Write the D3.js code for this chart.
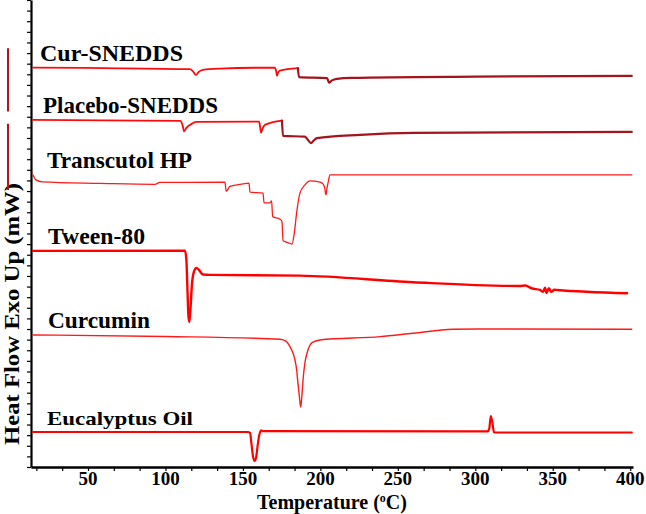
<!DOCTYPE html>
<html>
<head>
<meta charset="UTF-8">
<title>DSC</title>
<style>
body { margin: 0; background: #fff; }
.axis path, .axis line { stroke: #000; fill: none; }
.lbl { font-family: "Liberation Serif", "Times New Roman", serif; font-weight: bold; fill: #000; }
.curve { fill: none; stroke-linejoin: round; stroke-linecap: round; }
</style>
</head>
<body>
<div class="dsc"></div>
<script src="https://cdn.jsdelivr.net/npm/d3@7/dist/d3.min.js"></script>
<script>

// [temperature °C, heat flow mW (curves stacked)]
const curSnedds = [
    [14.5, 37.63], [60, 37.58], [115.8, 37.48], [117.5, 37.32], [119.7, 36.95], [121.5, 37.23],
    [124.2, 37.42], [135, 37.53], [170.7, 37.63], [171.4, 37.32], [172, 36.85], [172.6, 37.13],
    [173.9, 37.35], [185.5, 37.58], [186.2, 36.73], [204.3, 36.64], [205.6, 36.22], [207.5, 36.43],
    [210.7, 36.57], [220, 36.66], [300, 36.78], [401, 36.85]
];
const placeboSnedds = [
    [14.5, 32.7], [60, 32.66], [109.4, 32.61], [111, 32.23], [112, 31.62], [113.5, 31.95],
    [115.8, 32.23], [120, 32.52], [160.4, 32.54], [161, 32.14], [161.7, 31.51], [162.6, 31.86],
    [164.2, 32.23], [175.2, 32.64], [175.9, 31.2], [190, 31.13], [192, 30.82], [193.9, 30.51],
    [195.5, 30.73], [197.8, 30.98], [225.6, 31.29], [260, 31.48], [401, 31.57]
];
const transcutol = [
    [14.5, 27.52], [16.4, 27.05], [20.3, 26.86], [57.7, 26.72], [93.2, 26.63], [96.4, 26.81],
    [138.4, 26.83], [139.2, 25.97], [141.6, 26.44], [150, 26.67], [153.9, 26.74], [154.6, 25.89],
    [163, 25.8], [163.6, 24.88], [167.4, 24.88], [168.5, 25.07], [169.2, 23.59], [173.9, 23.35],
    [175.2, 23.12], [175.9, 21.33], [177.2, 21.23], [180.4, 21.08], [181.7, 20.99], [183, 21.87],
    [184.9, 24.22], [186.8, 25.8], [190, 26.58], [193.3, 26.96], [199.7, 26.83], [201.7, 26.67],
    [202.8, 26.3], [203.6, 25.64], [204.3, 26.3], [204.9, 26.74], [206.2, 27.52], [401, 27.52]
];
const tween80 = [
    [14.5, 20.36], [112.6, 20.39], [113.5, 19.5], [114.2, 16.7], [114.8, 14.3], [115.4, 13.67],
    [116.1, 14.8], [117.1, 17.2], [118.4, 18.4], [120, 18.75], [121.6, 18.57], [124.2, 18.14],
    [128.7, 18.1], [186.8, 18.03], [259.8, 17.41], [328.9, 17.06], [332.1, 17.1], [336.6, 16.82],
    [341.8, 16.68], [343.8, 16.5], [345, 16.9], [346, 16.4], [347.5, 16.85], [349, 16.5],
    [351, 16.7], [352.7, 16.68], [398, 16.37]
];
const curcumin = [
    [14.5, 12.44], [100, 12.3], [174, 12.04], [178, 11.83], [180.4, 11.34], [182.3, 10.74],
    [183.6, 10.08], [184.7, 9.14], [185.5, 7.92], [186.4, 6.69], [187.3, 5.65], [188, 6.6],
    [188.8, 8.2], [190, 9.8], [191.4, 10.74], [193, 11.4], [194.6, 11.72], [199.7, 11.97],
    [238.5, 12.28], [259.8, 12.6], [285.6, 12.98], [303, 13.0], [401, 12.98]
];
const eucalyptus = [
    [14.5, 3.3], [153.3, 3.3], [154.6, 3.2], [155.5, 2.2], [156.5, 1.0], [157.5, 0.57],
    [158.5, 0.9], [159.4, 1.9], [160.4, 2.9], [161.7, 3.45], [163, 3.38], [303, 3.35],
    [308, 3.35], [309, 3.6], [310, 4.8], [311, 4.2], [312, 3.3], [313, 3.25], [401, 3.25]
];

const names = ['Cur-SNEDDS', 'Placebo-SNEDDS', 'Transcutol HP', 'Tween-80', 'Curcumin', 'Eucalyptus Oil'];
const series = [curSnedds, placeboSnedds, transcutol, tween80, curcumin, eucalyptus];
// temperature where the SNEDDS traces switch to the darker trace colour
const splitAt = [186, 175.5, null, null, null, null];
// scale bars, mW
const scaleBars = [[33.49, 39.46], [26.1, 32.33]];
const tempLabels = [50, 100, 150, 200, 250, 300, 350, 400];

// styles
const stroke = ['#ff0a0a', '#ff0a0a', '#ff1a1a', '#ff0000', '#ff1a1a', '#ff0000'];
const strokeW = [1.8, 1.8, 1.3, 2.4, 1.4, 2.2];
const labelX = [40, 43, 47, 48, 48, 47];
const labelLen = [143, 175, 145, 97, 102, 146];
const labelSize = [23, 23, 23, 23, 23, 19];

let width = 646, height = 514;

let svg = d3.select('.dsc').append('svg')
    .attr('width', width)
    .attr('height', height);

let xScale = d3.scaleLinear().domain([13.2, 401.8]).range([31, 633]);
let yScale = d3.scaleLinear().domain([0, 44]).range([467, 0]);

// x axis: minor ticks every 50/3 degrees, labels every 50
let xTicks = d3.range(1, 25).map(i => i * 50 / 3);
svg.append('g')
    .attr('class', 'axis')
    .attr('transform', 'translate(0,' + yScale(0) + ')')
    .call(d3.axisBottom(xScale).tickValues(xTicks).tickSize(4).tickSizeOuter(0).tickFormat(''))
    .call(g => g.select('.domain').attr('stroke-width', 2.5))
    .call(g => g.selectAll('.tick line').attr('stroke-width', 1.2));

svg.append('g')
    .selectAll('text')
    .data(tempLabels)
    .join('text')
    .attr('class', 'lbl')
    .attr('x', d => xScale(d))
    .attr('y', 485)
    .attr('text-anchor', 'middle')
    .style('font-size', '19px')
    .text(d => d);

let xTitle = svg.append('text')
    .attr('class', 'lbl')
    .attr('x', (xScale(13.2) + xScale(401.8)) / 2)
    .attr('y', 509)
    .attr('text-anchor', 'middle')
    .style('font-size', '20px');
xTitle.append('tspan').text('Temperature (');
xTitle.append('tspan').attr('dy', -7).style('font-size', '12px').text('o');
xTitle.append('tspan').attr('dy', 7).text('C)');

// y axis: unlabelled ticks
svg.append('g')
    .attr('class', 'axis')
    .attr('transform', 'translate(' + xScale(13.2) + ',0)')
    .call(d3.axisLeft(yScale).ticks(44).tickSize(4).tickSizeOuter(0).tickFormat(''))
    .call(g => g.select('.domain').attr('stroke-width', 2.2))
    .call(g => g.selectAll('.tick line').attr('stroke-width', 1.2));

svg.append('text')
    .attr('class', 'lbl')
    .attr('transform', 'translate(19,' + 314 + ') rotate(-90)')
    .attr('text-anchor', 'middle')
    .attr('textLength', 262)
    .attr('lengthAdjust', 'spacingAndGlyphs')
    .style('font-size', '21px')
    .text('Heat Flow Exo Up (mW)');

// scale bars
svg.append('g')
    .selectAll('line')
    .data(scaleBars)
    .join('line')
    .attr('x1', 8).attr('x2', 8)
    .attr('y1', d => yScale(d[0]))
    .attr('y2', d => yScale(d[1]))
    .attr('stroke', '#b5121b')
    .attr('stroke-width', 2);

let line = d3.line()
    .x(d => xScale(d[0]))
    .y(d => yScale(d[1]))
    .curve(d3.curveMonotoneX);

let g = svg.append('g');

series.forEach((data, i) => {
    let s = splitAt[i];
    if (s) {
        let a = data.filter(d => d[0] <= s), b = data.filter(d => d[0] >= a[a.length - 1][0]);
        g.append('path').attr('class', 'curve').attr('d', line(a))
            .attr('stroke', stroke[i]).attr('stroke-width', strokeW[i]);
        g.append('path').attr('class', 'curve').attr('d', line(b))
            .attr('stroke', '#a3141c').attr('stroke-width', strokeW[i] + 0.4);
    } else {
        g.append('path').attr('class', 'curve').attr('d', line(data))
            .attr('stroke', stroke[i]).attr('stroke-width', strokeW[i]);
    }

    svg.append('text')
        .attr('class', 'lbl')
        .attr('x', labelX[i])
        .attr('y', yScale(data[0][1]) - 7)
        .attr('textLength', labelLen[i])
        .attr('lengthAdjust', 'spacingAndGlyphs')
        .style('font-size', labelSize[i] + 'px')
        .text(names[i]);
});

</script>
</body>
</html>
